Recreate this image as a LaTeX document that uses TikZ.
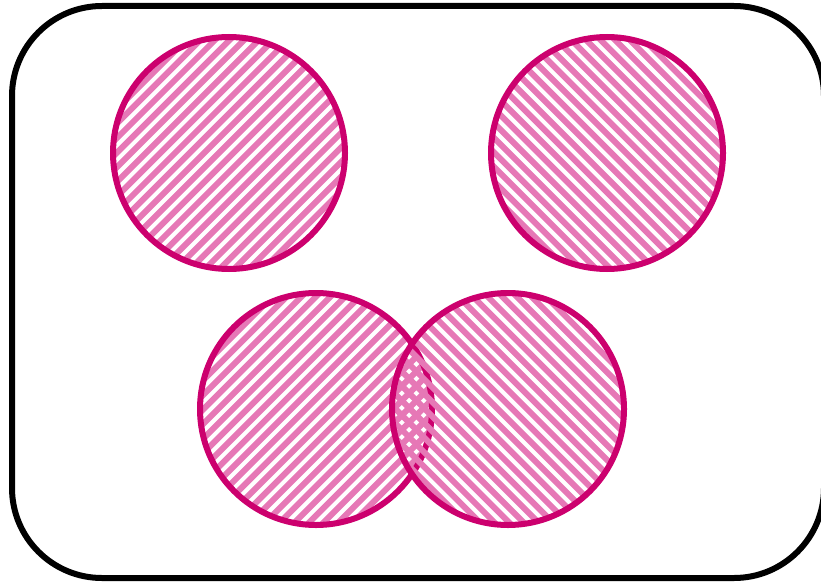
\documentclass[tikz,border=0pt]{standalone}
\definecolor{ringc}{RGB}{204,0,110}
\definecolor{hatchc}{RGB}{230,120,182}
\tikzset{
  setbox/.style={draw=black, line width=6pt, rounded corners=90pt},
  ring/.style={draw=ringc, line width=6pt},
  stripe/.style={draw=hatchc, line width=6pt},
}
\newcommand{\hatchcircle}[3]{% center x, center y, direction (+1 = /, -1 = \)
  \begin{scope}
    \clip (#1,#2) circle (116);
    \foreach \c in {-170.8,-156.2,...,170} {
      \draw[stripe] ({#1+\c-130},{#2+#3*130}) -- ({#1+\c+130},{#2-#3*130});
    }
  \end{scope}
  \draw[ring] (#1,#2) circle (116);
}
\begin{document}
\begin{tikzpicture}[x=1pt,y=-1pt]
\useasboundingbox (0,0) rectangle (821,583);
\draw[setbox] (12,6) rectangle (824,578);
\hatchcircle{229}{153}{1}
\hatchcircle{607}{153}{-1}
\hatchcircle{316}{409}{1}
\hatchcircle{508}{409}{-1}
\end{tikzpicture}
\end{document}
